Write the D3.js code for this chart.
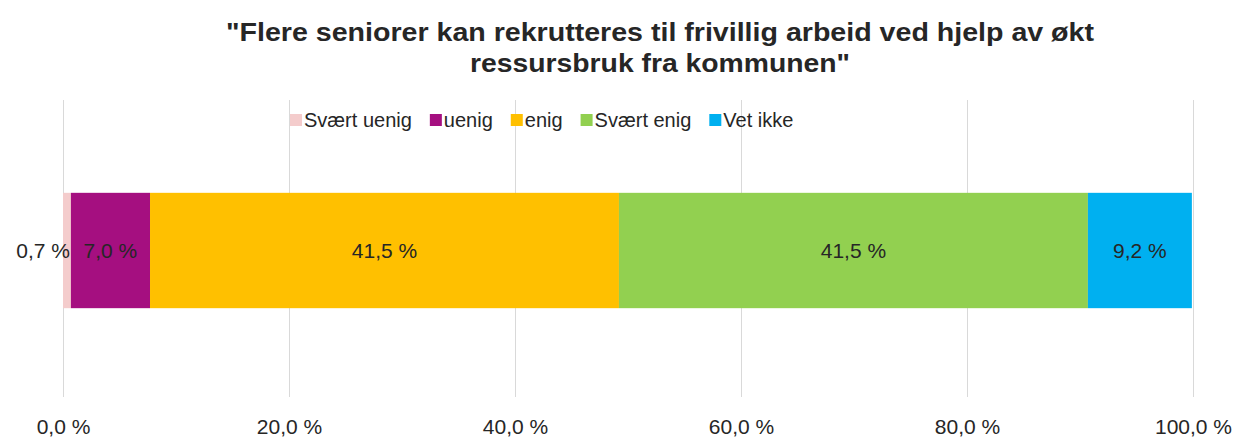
<!DOCTYPE html>
<html>
<head>
<meta charset="utf-8">
<script src="https://cdn.jsdelivr.net/npm/d3@7"></script>
<style>
    body { margin: 0; background: #fff; }
    text { font-family: "Liberation Sans", Arial, sans-serif; fill: #262626; }
</style>
</head>
<body>
<svg id="chart"></svg>
<script>
// answer categories and their share (%)
const categories = ["Svært uenig", "uenig", "enig", "Svært enig", "Vet ikke"];
const values = [0.7, 7.0, 41.5, 41.5, 9.2];
const colors = ["#F4CCCC", "#A50F80", "#FFC000", "#92D050", "#00B0F0"];
const ticks = [0, 20, 40, 60, 80, 100];
const titleLines = ["\"Flere seniorer kan rekrutteres til frivillig arbeid ved hjelp av økt", "ressursbruk fra kommunen\""];

const width = 1249, height = 441;
const margin = { top: 100, right: 56, bottom: 44, left: 63 };

const svg = d3.select("#chart")
    .attr("width", width)
    .attr("height", height);

const chart = svg.append("g")
    .attr("transform", `translate(${margin.left},${margin.top})`);

const innerW = width - margin.left - margin.right;
const innerH = height - margin.top - margin.bottom;

const fmt = v => d3.format(".1f")(v).replace(".", ",") + " %";

// x scale
const xScale = d3.scaleLinear()
    .domain([0, 100])
    .range([0, innerW]);

// single band for the one bar
const yScale = d3.scaleBand()
    .domain(["q"])
    .range([4, innerH])
    .paddingInner(0)
    .paddingOuter(0.77);

// gridlines
chart.append("g")
    .selectAll("line")
    .data(ticks)
    .join("line")
    .attr("x1", d => xScale(d) + 0.5)
    .attr("x2", d => xScale(d) + 0.5)
    .attr("y1", 0)
    .attr("y2", innerH)
    .attr("stroke", "#D9D9D9")
    .attr("stroke-width", 1);

// axis
const xAxis = d3.axisBottom(xScale)
    .tickValues(ticks)
    .tickSize(0)
    .tickPadding(22)
    .tickFormat(fmt);

chart.append("g")
    .attr("class", "x axis")
    .attr("transform", `translate(0,${innerH})`)
    .call(xAxis)
    .call(g => g.select(".domain").remove())
    .selectAll("text")
    .style("font-size", "21px")
    .style("font-family", "\"Liberation Sans\", Arial, sans-serif")
    .attr("fill", "#262626");

// stacked segments
let acc = 0;
const segments = values.map((v, i) => {
    const s = { key: categories[i], x0: acc, x1: acc + v, value: v, color: colors[i] };
    acc += v;
    return s;
});

chart.append("g")
    .selectAll("rect")
    .data(segments)
    .join("rect")
    .attr("x", d => xScale(d.x0))
    .attr("y", yScale("q"))
    .attr("width", d => xScale(d.x1) - xScale(d.x0))
    .attr("height", yScale.bandwidth())
    .attr("fill", d => d.color);

// value labels (tiny first segment pushed out to the left like excel does)
chart.append("g")
    .selectAll("text")
    .data(segments)
    .join("text")
    .attr("x", (d, i) => i == 0 ? xScale(d.x1) - 1 : (xScale(d.x0) + xScale(d.x1)) / 2)
    .attr("y", yScale("q") + yScale.bandwidth() / 2)
    .attr("dy", "0.35em")
    .attr("text-anchor", (d, i) => i == 0 ? "end" : "middle")
    .style("font-size", "21px")
    .attr("fill", "#000")
    .text(d => fmt(d.value));

// legend
const legend = chart.append("g")
    .attr("transform", "translate(227,20)");

let lx = 0;
categories.forEach((c, i) => {
    legend.append("rect")
        .attr("x", lx)
        .attr("y", -6)
        .attr("width", 12)
        .attr("height", 12)
        .attr("fill", colors[i]);
    const t = legend.append("text")
        .attr("x", lx + 14)
        .attr("y", 0)
        .attr("dy", "0.35em")
        .style("font-size", "20px")
        .attr("fill", "#262626")
        .text(c);
    lx += 14 + t.node().getComputedTextLength() + 18;
});

// title
svg.append("g")
    .selectAll("text")
    .data(titleLines)
    .join("text")
    .attr("x", 660)
    .attr("y", (d, i) => 41 + i * 31)
    .attr("text-anchor", "middle")
    .attr("textLength", (d, i) => i == 0 ? 868 : 380)
    .attr("lengthAdjust", "spacingAndGlyphs")
    .style("font-size", "25px")
    .style("font-weight", "bold")
    .attr("fill", "#000")
    .text(d => d);
</script>
</body>
</html>
